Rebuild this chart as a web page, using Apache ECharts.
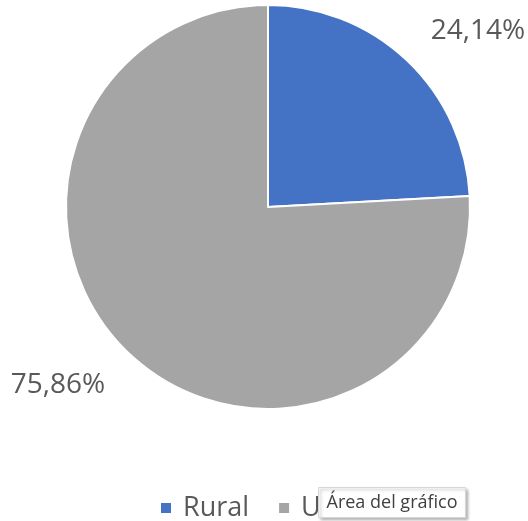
<!DOCTYPE html>
<html><head><meta charset="utf-8">
<script src="https://cdn.jsdelivr.net/npm/echarts@6/dist/echarts.min.js"></script>
<style>html,body{margin:0;padding:0;background:#fff}#c{width:528px;height:521px}</style>
</head><body><div id="c"></div>
<script>
var categories = ['Rural', 'Urbana'];
var values = [24.14, 75.86];
var colors = ['#4472C4', '#A5A5A5'];
var labelPos = [[478, 31], [58, 385]];

var chart = echarts.init(document.getElementById('c'));
chart.setOption({
  animation: false,
  color: colors,
  legend: {
    top: 489,
    left: 154,
    padding: 5,
    icon: 'rect',
    itemWidth: 12,
    itemHeight: 12,
    itemGap: 28,
    textStyle: { fontFamily: 'Open Sans', fontSize: 27, lineHeight: 28, color: '#595959', padding: [0, 0, 0, 6] },
    data: categories
  },
  series: [{
    type: 'pie',
    center: [268, 207],
    radius: 202,
    startAngle: 90,
    clockwise: true,
    itemStyle: { borderColor: '#fff', borderWidth: 2 },
    label: {
      show: true,
      position: 'outside',
      overflow: 'none',
      width: 200,
      formatter: function (p) { return p.value.toFixed(2).replace('.', ',') + '%'; },
      fontFamily: 'Open Sans', fontSize: 28, color: '#595959'
    },
    labelLine: { show: false },
    labelLayout: function (p) {
      return { x: labelPos[p.dataIndex][0], y: labelPos[p.dataIndex][1], align: 'center', verticalAlign: 'middle', hideOverlap: false };
    },
    data: categories.map(function (c, i) { return { name: c, value: values[i] }; })
  }],
  graphic: [{
    type: 'group', left: 318, top: 487, z: 100,
    children: [
      { type: 'rect', z: 100, shape: { x: 0, y: 0, width: 147, height: 30 },
        style: { fill: '#fff', stroke: '#d8d8d8', lineWidth: 1, shadowBlur: 3, shadowOffsetX: 2, shadowOffsetY: 2, shadowColor: 'rgba(0,0,0,0.3)' } },
      { type: 'text', z: 101, x: 8, y: 15, style: { text: 'Área del gráfico', fontFamily: 'Open Sans', fontSize: 18, fill: '#404040', verticalAlign: 'middle' } }
    ]
  }]
});
</script></body></html>
